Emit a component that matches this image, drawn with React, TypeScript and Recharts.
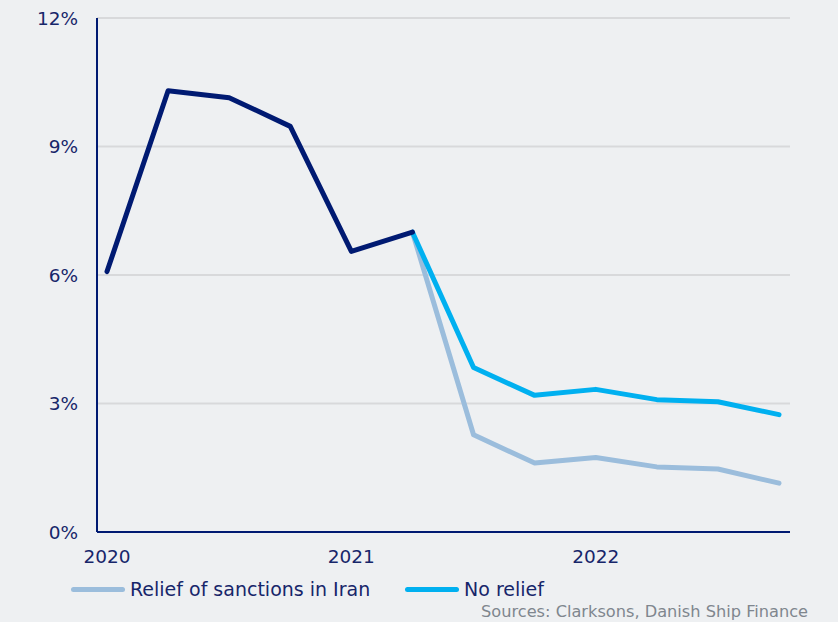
import React from "react";
import { LineChart, Line, XAxis, YAxis, CartesianGrid, Legend } from "recharts";

const quarters = [
  "Q1 2020", "Q2 2020", "Q3 2020", "Q4 2020",
  "Q1 2021", "Q2 2021", "Q3 2021", "Q4 2021",
  "Q1 2022", "Q2 2022", "Q3 2022", "Q4 2022",
];
const historical = [6.08, 10.3, 10.14, 9.47, 6.55, 7.0, null, null, null, null, null, null];
const noRelief = [null, null, null, null, null, 7.0, 3.84, 3.19, 3.33, 3.09, 3.04, 2.74];
const relief = [null, null, null, null, null, 7.0, 2.27, 1.61, 1.74, 1.52, 1.47, 1.14];
const yearTickIndex = [0, 4, 8];
const yearTickLabels = ["2020", "2021", "2022"];
const yTicks = [0, 3, 6, 9, 12];

const data = quarters.map((q, i) => ({
  idx: i,
  quarter: q,
  historical: historical[i],
  noRelief: noRelief[i],
  relief: relief[i],
}));

const NAVY = "#001a72";
const TEXT = "#17266a";
const CYAN = "#00b0f0";
const LIGHT = "#9bbddc";
const BG = "#eef0f2";
const FONT = "'DejaVu Sans', Verdana, sans-serif";

const LegendContent = () => (
  <div style={{ position: "relative", width: 838, height: 50, fontFamily: FONT }}>
    <div style={{ position: "absolute", left: 71, top: 6, display: "flex", alignItems: "center" }}>
      <div style={{ width: 54, height: 5, borderRadius: 3, background: LIGHT }} />
      <span style={{ fontSize: 19, color: TEXT, marginLeft: 5 }}>Relief of sanctions in Iran</span>
    </div>
    <div style={{ position: "absolute", left: 405, top: 6, display: "flex", alignItems: "center" }}>
      <div style={{ width: 54, height: 5, borderRadius: 3, background: CYAN }} />
      <span style={{ fontSize: 19, color: TEXT, marginLeft: 5 }}>No relief</span>
    </div>
    <div style={{ position: "absolute", left: 481, top: 30, fontSize: 16.2, color: "#7f868e", whiteSpace: "nowrap" }}>
      Sources: Clarksons, Danish Ship Finance
    </div>
  </div>
);

export default function App() {
  return (
    <div style={{ position: "absolute", left: 0, top: 0, width: 838, height: 622, background: BG, fontFamily: FONT }}>
      <LineChart width={838} height={622} data={data} margin={{ top: 18, right: 48, bottom: 0, left: 0 }}>
        <CartesianGrid horizontal vertical={false} stroke="#d8d9db" strokeWidth={2} />
        <XAxis
          dataKey="idx"
          type="number"
          domain={[0, 11]}
          ticks={yearTickIndex}
          tickFormatter={(v) => yearTickLabels[yearTickIndex.indexOf(v)]}
          padding={{ left: 10, right: 11 }}
          height={40}
          tickLine={false}
          tickSize={0}
          tickMargin={18}
          axisLine={{ stroke: NAVY, strokeWidth: 2 }}
          tick={{ fill: TEXT, fontSize: 18.5, fontFamily: FONT }}
        />
        <YAxis
          domain={[0, 12]}
          ticks={yTicks}
          tickFormatter={(v) => `${v}%`}
          width={97}
          tickLine={false}
          tickSize={0}
          tickMargin={19}
          axisLine={{ stroke: NAVY, strokeWidth: 2 }}
          tick={{ fill: TEXT, fontSize: 18.5, fontFamily: FONT }}
        />
        <Legend verticalAlign="bottom" height={50} content={<LegendContent />} />
        <Line dataKey="relief" name="Relief of sanctions in Iran" stroke={LIGHT} strokeWidth={5} dot={false} isAnimationActive={false} strokeLinecap="round" strokeLinejoin="round" connectNulls={false} />
        <Line dataKey="noRelief" name="No relief" stroke={CYAN} strokeWidth={5} dot={false} isAnimationActive={false} strokeLinecap="round" strokeLinejoin="round" connectNulls={false} />
        <Line dataKey="historical" name="Historical" stroke={NAVY} strokeWidth={5} dot={false} isAnimationActive={false} strokeLinecap="round" strokeLinejoin="round" legendType="none" connectNulls={false} />
      </LineChart>
    </div>
  );
}
